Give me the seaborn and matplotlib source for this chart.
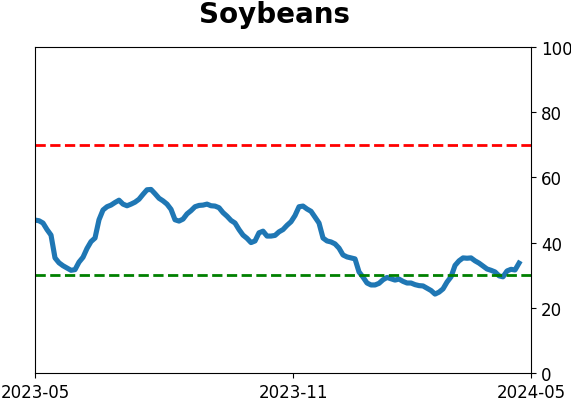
import pandas as pd
import matplotlib
matplotlib.use("Agg")
import matplotlib.pyplot as plt
import seaborn as sns

# readings of the line, one per step along the x axis
values = [
    46.9, 46.7, 46.0, 44.0, 42.3, 35.3, 33.8, 32.9, 32.2, 31.5,
    31.7, 34.0, 35.5, 38.2, 40.3, 41.4, 47.0, 50.0, 51.0, 51.5,
    52.3, 53.0, 51.8, 51.3, 51.8, 52.4, 53.3, 54.8, 56.2, 56.3,
    55.0, 53.6, 52.8, 51.8, 50.2, 47.0, 46.6, 47.2, 48.8, 49.8,
    51.0, 51.4, 51.5, 51.8, 51.3, 51.2, 50.7, 49.2, 48.1, 46.8,
    46.0, 44.0, 42.3, 41.3, 40.0, 40.5, 43.0, 43.5, 42.0, 42.0,
    42.2, 43.3, 44.0, 45.3, 46.4, 48.3, 51.0, 51.2, 50.3, 49.6,
    47.8, 46.0, 41.4, 40.5, 40.2, 39.6, 38.3, 36.2, 35.6, 35.3,
    35.0, 31.0, 29.4, 27.6, 27.0, 27.0, 27.5, 28.6, 29.3, 28.9,
    28.5, 28.8, 28.1, 27.6, 27.6, 27.1, 26.8, 26.7, 26.0, 25.3,
    24.2, 24.8, 25.8, 27.9, 29.5, 33.0, 34.4, 35.3, 35.2, 35.3,
    34.4, 33.7, 32.8, 31.9, 31.5, 31.0, 29.8, 29.5, 31.3, 31.8,
    31.6, 33.7,
]
tick_labels = ["2023-05", "2023-11", "2024-05"]
tick_pos = [0, 64.5, 124]
upper_level = 70
lower_level = 30

df = pd.DataFrame({"step": range(len(values)), "value": values})

plt.rcParams["font.size"] = 12
fig = plt.figure(figsize=(5.71, 4.02), dpi=100)
ax = fig.add_axes([0.0613, 0.0697, 0.8687, 0.8109])

sns.lineplot(data=df, x="step", y="value", ax=ax, color="#1f77b4", linewidth=3.7)
ax.axhline(upper_level, color="red", linestyle="--", linewidth=2)
ax.axhline(lower_level, color="green", linestyle="--", linewidth=2)

ax.set_xlim(tick_pos[0], tick_pos[-1])
ax.set_ylim(0, 100)
ax.set_xticks(tick_pos)
ax.set_xticklabels(tick_labels)
ax.set_yticks(range(0, 101, 20))
ax.yaxis.tick_right()
ax.set_xlabel("")
ax.set_ylabel("")
ax.set_title("Soybeans", fontsize=20, fontweight="bold", pad=18, x=0.482)

fig.savefig("out.png", dpi=100)
